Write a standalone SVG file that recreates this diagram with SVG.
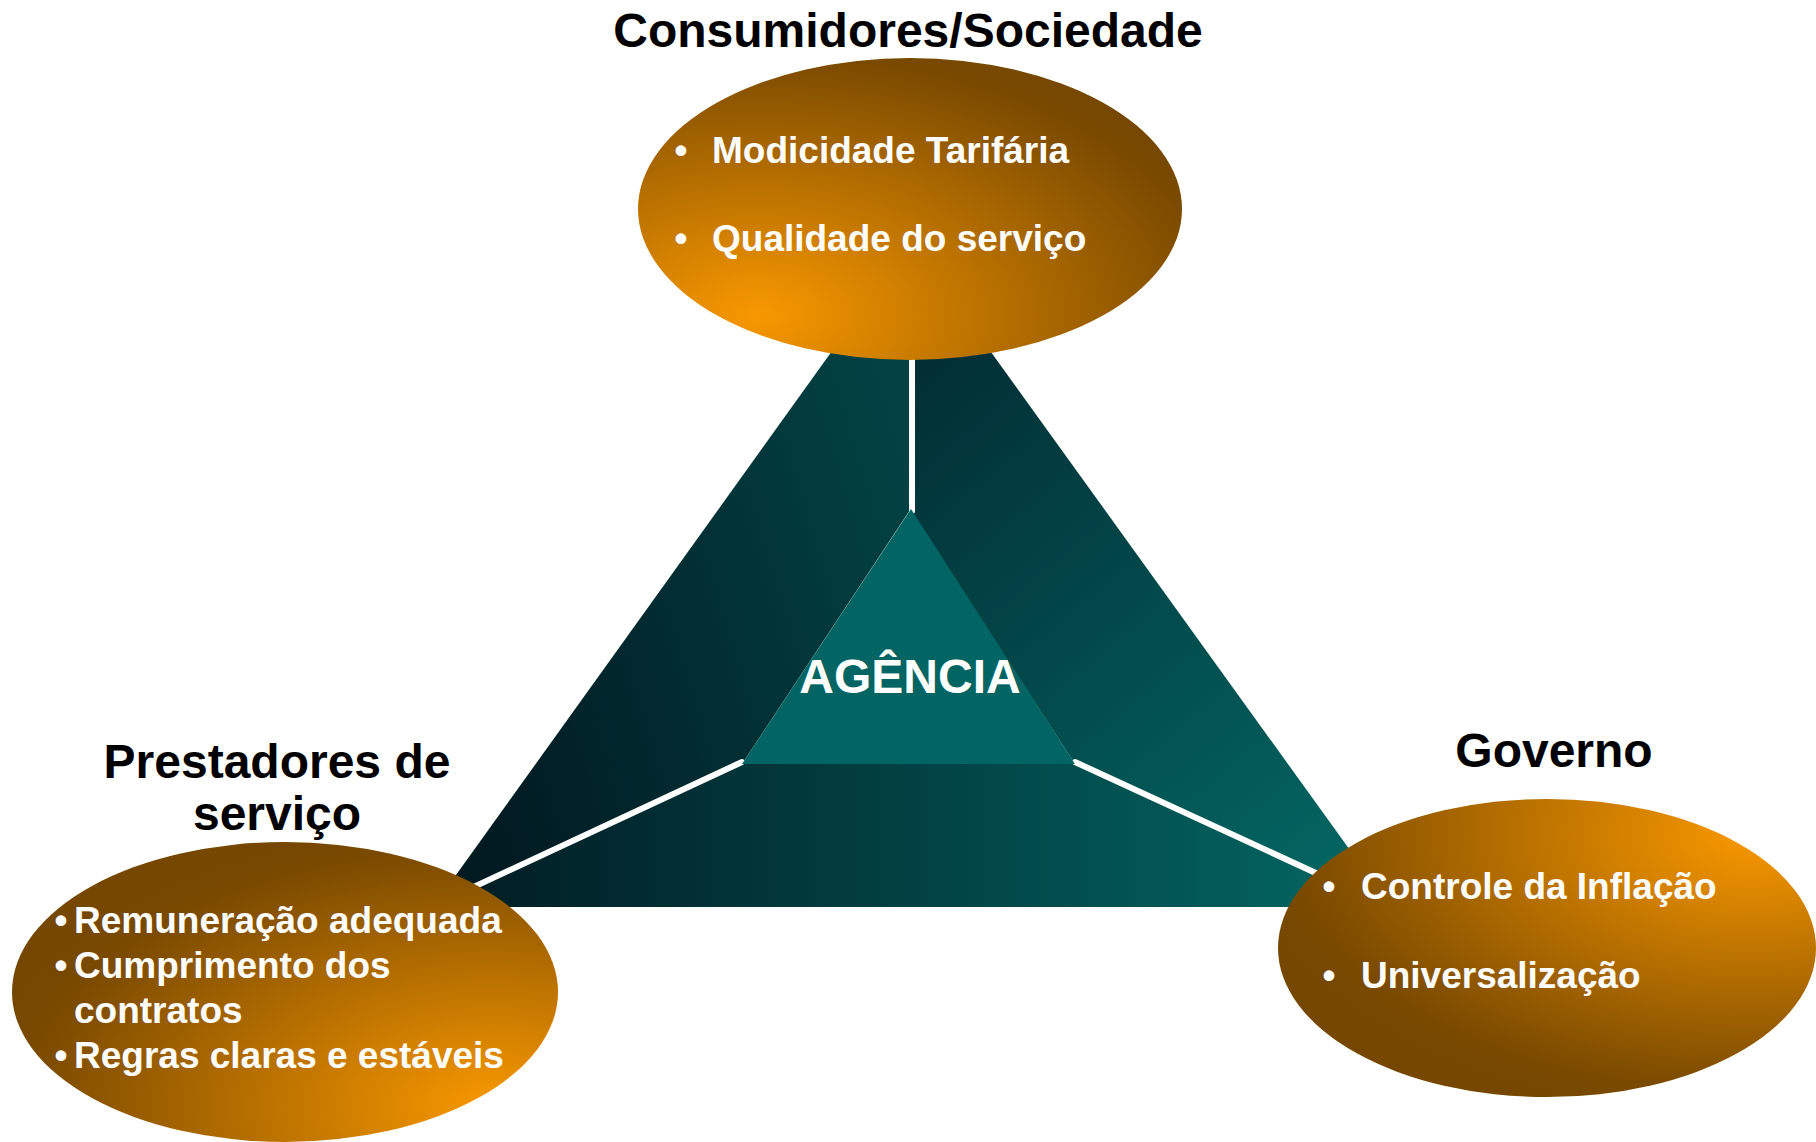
<svg xmlns="http://www.w3.org/2000/svg" width="1816" height="1142" viewBox="0 0 1816 1142">
  <defs>
    <linearGradient id="gLeft" gradientUnits="userSpaceOnUse" x1="440" y1="620" x2="912" y2="480">
      <stop offset="0" stop-color="#011b23"/>
      <stop offset="1" stop-color="#024244"/>
    </linearGradient>
    <linearGradient id="gRight" gradientUnits="userSpaceOnUse" x1="912" y1="300" x2="1390" y2="880">
      <stop offset="0" stop-color="#022a32"/>
      <stop offset="1" stop-color="#036864"/>
    </linearGradient>
    <linearGradient id="gBottom" gradientUnits="userSpaceOnUse" x1="440" y1="850" x2="1390" y2="850">
      <stop offset="0" stop-color="#011b23"/>
      <stop offset="1" stop-color="#036864"/>
    </linearGradient>
    <radialGradient id="oTop" cx="0.22" cy="0.85" r="0.95">
      <stop offset="0" stop-color="#f89800"/>
      <stop offset="0.9" stop-color="#7a4a00"/>
      <stop offset="1" stop-color="#764700"/>
    </radialGradient>
    <radialGradient id="oLeft" cx="0.88" cy="0.88" r="0.95">
      <stop offset="0" stop-color="#f89800"/>
      <stop offset="0.9" stop-color="#7a4a00"/>
      <stop offset="1" stop-color="#764700"/>
    </radialGradient>
    <radialGradient id="oRight" cx="0.88" cy="0.12" r="0.95">
      <stop offset="0" stop-color="#f89800"/>
      <stop offset="0.9" stop-color="#7a4a00"/>
      <stop offset="1" stop-color="#764700"/>
    </radialGradient>
  </defs>
  <style>
    .title { font-family: "Liberation Sans", Arial, sans-serif; font-weight: bold; font-size: 48px; fill: #000000; text-anchor: middle; }
    .item { font-family: "Liberation Sans", Arial, sans-serif; font-weight: bold; font-size: 37px; fill: #ffffff; }
    .bullet { text-anchor: middle; }
    .agency { font-family: "Liberation Sans", Arial, sans-serif; font-weight: bold; font-size: 48px; fill: #ffffff; text-anchor: middle; }
    .edge { stroke: #ffffff; stroke-width: 6; stroke-linecap: round; fill: none; }
  </style>

  <g id="pyramid">
    <polygon points="911,241 433,907 742,764 910,510" fill="url(#gLeft)"/>
    <polygon points="911,241 910,510 1075,764 1391,907" fill="url(#gRight)"/>
    <polygon points="433,907 742,764 1075,764 1391,907" fill="url(#gBottom)"/>
  </g>

  <g id="connectors">
    <line class="edge" x1="912" y1="340" x2="912" y2="511"/>
    <line class="edge" x1="742" y1="762" x2="450" y2="898"/>
    <line class="edge" x1="1075" y1="762" x2="1370" y2="898"/>
  </g>

  <g id="agencia">
    <polygon points="911,509 742,764 1075,764" fill="#036563"/>
    <text class="agency" x="910" y="693">AGÊNCIA</text>
  </g>

  <g id="consumidores">
    <text class="title" x="908" y="47">Consumidores/Sociedade</text>
    <ellipse cx="910" cy="209" rx="272" ry="151" fill="url(#oTop)"/>
    <text class="item bullet" x="681" y="163">•</text>
    <text class="item" x="712" y="163">Modicidade Tarifária</text>
    <text class="item bullet" x="681" y="251">•</text>
    <text class="item" x="712" y="251">Qualidade do serviço</text>
  </g>

  <g id="prestadores">
    <text class="title" x="277" y="778">Prestadores de</text>
    <text class="title" x="277" y="830">serviço</text>
    <ellipse cx="285" cy="992" rx="273" ry="150" fill="url(#oLeft)"/>
    <text class="item bullet" x="61" y="933">•</text>
    <text class="item" x="74" y="933">Remuneração adequada</text>
    <text class="item bullet" x="61" y="978">•</text>
    <text class="item" x="74" y="978">Cumprimento dos</text>
    <text class="item" x="74" y="1023">contratos</text>
    <text class="item bullet" x="61" y="1068">•</text>
    <text class="item" x="74" y="1068">Regras claras e estáveis</text>
  </g>

  <g id="governo">
    <text class="title" x="1554" y="767">Governo</text>
    <ellipse cx="1547" cy="948" rx="269" ry="149" fill="url(#oRight)"/>
    <text class="item bullet" x="1329" y="899">•</text>
    <text class="item" x="1361" y="899">Controle da Inflação</text>
    <text class="item bullet" x="1329" y="988">•</text>
    <text class="item" x="1361" y="988">Universalização</text>
  </g>
</svg>
